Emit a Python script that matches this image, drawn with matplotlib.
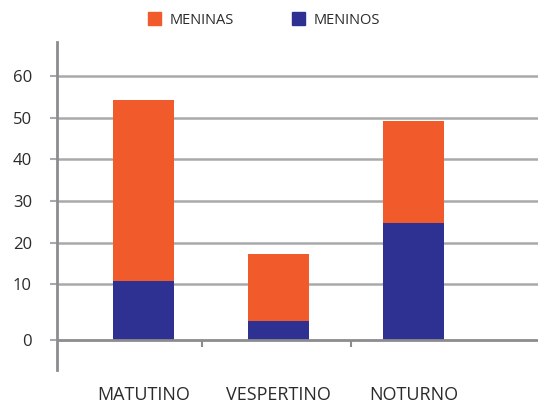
import matplotlib
matplotlib.use("Agg")
import matplotlib.pyplot as plt
import numpy as np
from matplotlib.patches import Patch

categories = ["MATUTINO", "VESPERTINO", "NOTURNO"]
meninos = [10.7, 3.4, 24.7]
meninas = [43.5, 13.8, 24.5]
yticks = [0, 10, 20, 30, 40, 50, 60]

ORANGE = "#f15a2b"
BLUE = "#2e3192"
GRID = "#a9a9ab"
SPINE = "#8c8c8e"
TEXT = "#2b2b2b"

plt.rcParams['font.family'] = ['Open Sans', 'DejaVu Sans']

# the original chart stretches the 0-10 band
def fwd(v):
    v = np.asarray(v, dtype=float)
    return np.where(v < 10, v * 1.34, v + 3.4)

def inv(t):
    t = np.asarray(t, dtype=float)
    return np.where(t < 13.4, t / 1.34, t - 3.4)

W, H = 538, 405
fig = plt.figure(figsize=(W / 100, H / 100), dpi=100)
ax = fig.add_axes([57 / W, 1 - 370 / H, (W - 57) / W, (370 - 42) / H])
ax.set_yscale('function', functions=(fwd, inv))

x = np.arange(len(categories))
ax.bar(x, meninos, width=0.45, color=BLUE, zorder=3)
ax.bar(x, meninas, width=0.45, bottom=meninos, color=ORANGE, zorder=3)

ax.set_xlim(-0.64, 2.92)
ax.set_ylim(-5.37, 68.2)

ax.spines['bottom'].set_position(('data', 0))
for s in ['top', 'right', 'bottom']:
    ax.spines[s].set_visible(False)
ax.spines['left'].set_color(SPINE)
ax.spines['left'].set_linewidth(2)
ax.xaxis.set_ticks_position('bottom')

ax.set_yticks(yticks)
ax.set_yticklabels([str(v) for v in yticks])
ax.tick_params(axis='y', length=5, width=1.5, color=GRID, pad=13,
               labelsize=12, labelcolor=TEXT)
for v in yticks[1:]:
    ax.axhline(v, color=GRID, lw=1.8, zorder=1)
ax.axhline(0, color=SPINE, lw=2, zorder=4)

ax.set_xticks(x)
ax.set_xticklabels(categories)
ax.tick_params(axis='x', which='major', length=0, pad=33,
               labelsize=13, labelcolor=TEXT)
ax.set_xticks([0.433, 1.537], minor=True)
ax.tick_params(axis='x', which='minor', length=5, width=1.5, color=SPINE)

handles = [Patch(color=ORANGE, label="MENINAS"), Patch(color=BLUE, label="MENINOS")]
fig.legend(handles=handles, loc='center', bbox_to_anchor=(264 / W, 1 - 20 / H),
           ncol=2, frameon=False, fontsize=10.5, handlelength=0.9, handleheight=0.9,
           handletextpad=0.6, columnspacing=4.0, labelcolor=TEXT)

fig.savefig("out.png", dpi=100)
